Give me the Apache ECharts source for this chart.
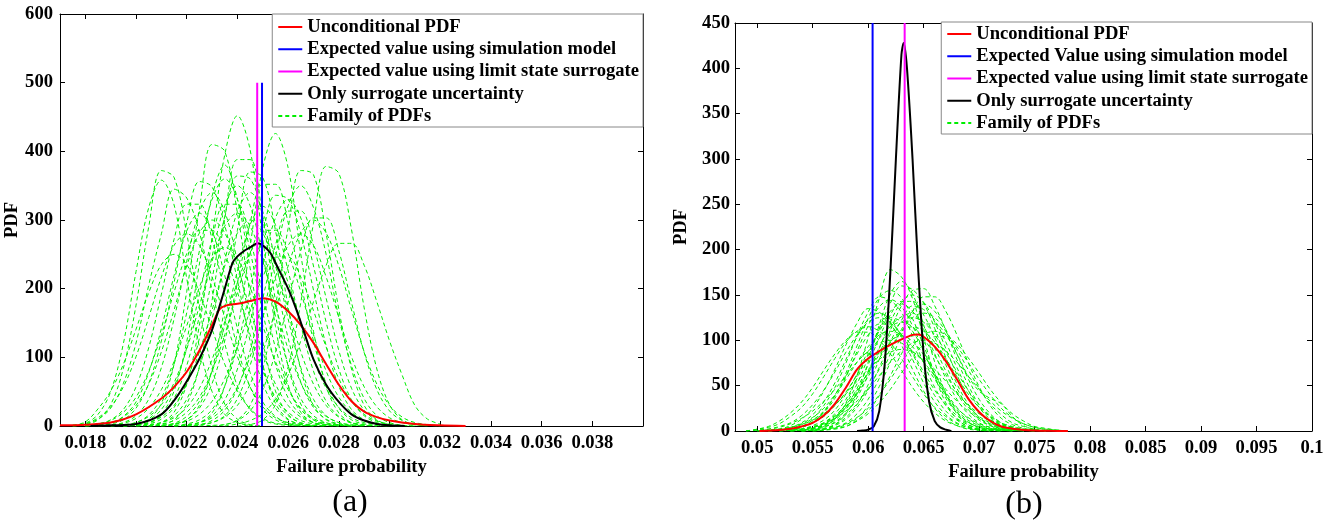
<!DOCTYPE html>
<html><head><meta charset="utf-8">
<script src="https://cdn.jsdelivr.net/npm/echarts@6/dist/echarts.min.js"></script>
<style>html,body{margin:0;padding:0;background:#fff}#c{width:1337px;height:524px}</style>
</head><body><div id="c"></div>
<script>
// ---------- tick labels ----------
const ticksAx = [0.018, 0.02, 0.022, 0.024, 0.026, 0.028, 0.03, 0.032, 0.034, 0.036, 0.038];
const ticksBx = [0.05, 0.055, 0.06, 0.065, 0.07, 0.075, 0.08, 0.085, 0.09, 0.095, 0.1];

// ---------- legend names ----------
const namesA = ['Unconditional PDF', 'Expected value using simulation model', 'Expected value using limit state surrogate', 'Only surrogate uncertainty', 'Family of PDFs'];
const namesB = ['Unconditional PDF', 'Expected Value using simulation model', 'Expected value using limit state surrogate', 'Only surrogate uncertainty', 'Family of PDFs'];

// ---------- chart (a) ----------
const redAx = [0.017, 0.018, 0.019, 0.020, 0.021, 0.0215, 0.022, 0.0225, 0.023, 0.0233, 0.0236, 0.024, 0.0245, 0.025, 0.0255, 0.026, 0.0265, 0.027, 0.0275, 0.028, 0.0285, 0.029, 0.0295, 0.030, 0.031, 0.032, 0.033];
const redAy = [1, 2, 5, 17, 40, 57, 79, 110, 147, 170, 176, 178, 182, 186, 181, 167, 147, 121, 90, 60, 36, 21, 13, 8, 3, 1, 0];
const blackAx = [0.0182, 0.019, 0.020, 0.021, 0.0216, 0.022, 0.0225, 0.023, 0.0235, 0.0238, 0.024, 0.0243, 0.0245, 0.0248, 0.025, 0.0253, 0.0256, 0.026, 0.0263, 0.0266, 0.027, 0.0275, 0.028, 0.0285, 0.029, 0.0295, 0.030, 0.0306];
const blackAy = [0, 1, 3, 17, 42, 65, 98, 140, 200, 237, 247, 256, 260, 266, 263, 252, 230, 200, 172, 140, 97, 60, 35, 17, 8, 3, 1, 0];
const simA = 0.02497, surA = 0.02478, vTopA = 500;
const famAx = [0.0175, 0.018, 0.0185, 0.019, 0.0195, 0.02, 0.0205, 0.021, 0.0215, 0.022, 0.0225, 0.023, 0.0235, 0.024, 0.0245, 0.025, 0.0255, 0.026, 0.0265, 0.027, 0.0275, 0.028, 0.0285, 0.029, 0.0295, 0.03, 0.0305, 0.031, 0.0315, 0.032];
const famA = [
 [0,2,9,31,84,176,290,372,362,280,172,84,32,10,2,0,0,0,0,0,0,0,0,0,0,0,0,0,0,0],
 [1,4,17,50,120,225,318,358,322,215,115,50,17,5,1,0,0,0,0,0,0,0,0,0,0,0,0,0,0,0],
 [1,3,10,26,62,121,205,280,345,332,282,198,120,58,24,9,3,1,0,0,0,0,0,0,0,0,0,0,0,0],
 [0,0,0,0,0,2,10,33,90,196,316,410,400,310,191,90,33,10,2,0,0,0,0,0,0,0,0,0,0,0],
 [0,0,0,0,0,0,1,5,20,61,147,274,395,452,402,272,145,60,20,5,1,0,0,0,0,0,0,0,0,0],
 [0,0,0,0,0,0,0,0,0,1,5,19,58,138,262,376,426,376,250,138,58,19,5,1,0,0,0,0,0,0],
 [0,0,0,0,0,0,0,0,0,0,0,0,2,9,30,83,175,288,372,366,280,170,83,30,9,2,0,0,0,0],
 [0,0,0,0,0,0,0,0,0,0,0,0,0,0,2,9,31,86,180,295,378,368,286,172,83,31,9,2,0,0],
 [0,0,0,0,0,0,0,0,0,0,1,5,15,40,88,160,247,321,350,318,250,158,88,40,15,5,1,0,0,0],
 [0,0,1,3,9,26,62,124,209,296,356,348,292,212,124,62,26,9,3,1,0,0,0,0,0,0,0,0,0,0],
 [0,0,0,0,0,1,4,17,51,123,236,335,380,330,230,123,51,17,4,1,0,0,0,0,0,0,0,0,0,0],
 [0,0,0,0,0,0,0,0,2,9,30,82,173,285,370,362,285,173,82,30,9,2,0,0,0,0,0,0,0,0],
 [0,0,0,0,0,1,3,10,27,64,128,215,305,364,360,305,215,128,64,27,10,3,1,0,0,0,0,0,0,0],
 [0,0,0,0,0,0,0,0,1,3,9,24,58,117,198,280,336,330,280,198,117,58,24,9,3,1,0,0,0,0],
 [0,0,1,4,14,35,78,142,219,284,310,284,219,142,78,35,14,4,1,0,0,0,0,0,0,0,0,0,0,0],
 [0,0,0,0,0,0,0,0,0,1,5,15,38,83,151,233,303,330,303,233,151,83,38,15,5,1,0,0,0,0],
 [0,0,0,0,0,0,0,0,0,0,2,5,13,30,61,108,169,233,281,300,281,233,169,108,61,30,13,5,2,0],
 [0,0,0,0,0,0,0,0,0,0,0,0,0,3,8,18,39,74,124,181,234,266,266,234,181,124,74,30,10,3],
 [0,3,12,28,57,101,158,217,263,280,263,217,158,101,57,28,12,5,2,0,0,0,0,0,0,0,0,0,0,0],
 [0,0,0,0,1,3,9,24,57,114,192,272,323,323,272,192,114,57,24,9,3,1,0,0,0,0,0,0,0,0],
 [0,0,0,0,0,0,0,1,4,14,36,80,147,226,293,320,293,226,147,80,36,14,4,1,0,0,0,0,0,0],
 [0,0,0,0,0,2,5,13,30,61,108,169,233,281,300,281,233,169,108,61,30,13,5,2,0,0,0,0,0,0],
 [0,0,0,1,5,15,39,85,156,240,312,340,312,240,156,85,39,15,5,1,0,0,0,0,0,0,0,0,0,0],
 [0,0,0,0,0,0,0,1,3,9,26,62,124,209,296,352,352,296,209,124,62,26,9,3,1,0,0,0,0,0],
 [0,0,0,0,0,1,5,15,40,88,160,247,321,350,321,247,160,88,40,15,5,1,0,0,0,0,0,0,0,0],
 [0,0,0,0,0,0,0,3,8,20,42,80,133,195,251,285,285,251,195,133,80,42,20,8,3,0,0,0,0,0],
 [0,0,2,5,13,30,61,108,169,233,281,300,281,233,169,108,61,30,13,5,2,0,0,0,0,0,0,0,0,0],
 [0,0,0,0,2,5,14,31,63,112,175,240,291,310,291,240,175,112,63,31,14,5,2,0,0,0,0,0,0,0],
 [0,0,0,0,0,0,0,0,0,1,2,8,23,55,110,186,263,313,313,263,186,110,55,23,8,2,1,0,0,0],
 [0,1,3,9,24,57,114,192,272,323,323,272,192,114,57,24,9,3,1,0,0,0,0,0,0,0,0,0,0,0],
 [0,0,0,2,4,11,26,53,94,146,202,244,260,244,202,146,94,53,26,11,4,2,0,0,0,0,0,0,0,0],
 [0,0,0,0,0,0,0,0,3,7,17,36,69,115,168,217,246,246,217,168,115,69,36,17,7,3,0,0,0,0],
 [0,0,3,8,20,42,80,133,195,251,285,285,251,195,133,80,42,20,8,3,0,0,0,0,0,0,0,0,0,0],
 [0,0,0,0,0,0,1,5,15,39,85,156,240,312,340,312,240,156,85,39,15,5,1,0,0,0,0,0,0,0],
 [0,0,0,0,0,0,0,0,0,2,5,12,28,57,101,158,217,263,280,263,217,158,101,57,28,12,5,2,0,0],
 [0,0,0,0,1,5,16,41,90,165,255,330,360,330,255,165,90,41,16,5,1,0,0,0,0,0,0,0,0,0],
 [0,0,0,0,0,0,2,5,12,27,55,97,152,209,253,270,253,209,152,97,55,27,12,5,2,0,0,0,0,0],
 [0,0,0,0,0,0,0,0,0,0,0,1,2,8,22,53,107,180,255,303,303,255,180,107,53,22,8,2,1,0],
 [1,6,25,51,90,141,194,235,250,235,194,141,90,51,25,11,4,2,0,0,0,0,0,0,0,0,0,0,0,0],
 [0,0,0,0,0,0,0,2,9,32,87,183,302,388,388,302,183,87,32,9,2,0,0,0,0,0,0,0,0,0]
];

// ---------- chart (b) ----------
const redBx = [0.0502, 0.052, 0.053, 0.054, 0.055, 0.056, 0.057, 0.058, 0.059, 0.060, 0.061, 0.062, 0.063, 0.064, 0.0645, 0.065, 0.066, 0.067, 0.068, 0.069, 0.070, 0.071, 0.072, 0.073, 0.074, 0.075, 0.0765, 0.078];
const redBy = [0, 1, 2.5, 5, 9, 17, 30, 48, 68, 80, 88, 95, 101, 106, 106.5, 104, 93, 77, 57, 36, 21, 11, 5, 2.5, 1.2, 0.6, 0.2, 0];
const blackBx = [0.059, 0.0595, 0.060, 0.0605, 0.061, 0.0615, 0.062, 0.0625, 0.063, 0.0632, 0.0635, 0.064, 0.0645, 0.065, 0.0655, 0.066, 0.0665, 0.067, 0.0675];
const blackBy = [0, 0.5, 1.5, 5, 22, 75, 175, 300, 415, 428, 400, 300, 180, 85, 32, 11, 4, 1.5, 0];
const simB = 0.0604, surB = 0.06329, vTopB = 450;
const famBx = [0.049, 0.05, 0.051, 0.052, 0.053, 0.054, 0.055, 0.056, 0.057, 0.058, 0.059, 0.06, 0.061, 0.062, 0.063, 0.064, 0.065, 0.066, 0.067, 0.068, 0.069, 0.07, 0.071, 0.072, 0.073, 0.074, 0.075, 0.076, 0.077, 0.078, 0.079];
const famB = [
 [0,0,0,0,0,0,1,5,13,31,61,103,146,178,170,146,103,61,31,13,5,1,0,0,0,0,0,0,0,0,0],
 [0,0,0,0,0,1,3,7,15,30,52,81,113,141,160,156,141,113,81,52,30,15,7,3,1,0,0,0,0,0,0],
 [0,0,0,0,0,0,1,3,7,15,29,51,79,111,138,155,157,138,111,79,51,29,15,7,3,1,0,0,0,0,0],
 [0,0,0,1,3,7,14,28,48,75,105,131,148,144,131,105,75,48,28,14,7,3,1,0,0,0,0,0,0,0,0],
 [0,0,1,2,6,13,25,44,68,95,119,135,131,119,95,68,44,25,13,6,2,1,0,0,0,0,0,0,0,0,0],
 [0,0,0,0,1,2,4,9,19,35,58,85,112,132,140,132,112,85,58,35,19,9,4,2,1,0,0,0,0,0,0],
 [0,0,0,0,0,1,2,4,10,20,37,62,91,120,142,150,142,120,91,62,37,20,10,4,2,1,0,0,0,0,0],
 [0,0,0,1,2,4,10,20,36,60,88,116,137,145,137,116,88,60,36,20,10,4,2,1,0,0,0,0,0,0,0],
 [0,0,0,0,0,1,2,5,9,18,30,47,68,90,110,125,130,125,110,90,68,47,30,18,9,5,2,1,0,0,0],
 [0,1,2,5,9,17,29,45,65,87,106,120,125,120,106,87,65,45,29,17,9,5,2,1,0,0,0,0,0,0,0],
 [0,0,0,1,2,4,9,16,28,43,62,83,102,115,120,115,102,83,62,43,28,16,9,4,2,1,0,0,0,0,0],
 [0,0,0,0,1,2,4,8,16,26,41,60,80,98,110,115,110,98,80,60,41,26,16,8,4,2,1,0,0,0,0],
 [0,1,2,4,8,14,22,33,46,61,76,88,97,100,97,88,76,61,46,33,22,14,8,4,2,1,0,0,0,0,0],
 [0,0,0,0,1,2,4,8,14,22,33,46,61,76,88,97,100,97,88,76,61,46,33,22,14,8,4,2,1,0,0],
 [0,0,0,0,0,1,2,6,12,24,42,66,92,115,126,130,115,92,66,42,24,12,6,2,1,0,0,0,0,0,0],
 [0,0,0,0,1,2,6,12,23,41,63,88,110,125,121,110,88,63,41,23,12,6,2,1,0,0,0,0,0,0,0],
 [0,0,0,0,0,0,1,2,4,8,15,25,40,57,76,93,106,110,106,93,76,57,40,25,15,8,4,2,1,0,0],
 [0,2,4,8,16,26,41,60,80,98,110,115,110,98,80,60,41,26,16,8,4,2,1,0,0,0,0,0,0,0,0],
 [0,0,1,2,4,7,12,19,29,41,55,68,79,87,90,87,79,68,55,41,29,19,12,7,4,2,1,0,0,0,0],
 [0,0,0,0,0,0,1,2,6,13,26,45,70,98,122,138,134,122,98,70,45,26,13,6,2,1,0,0,0,0,0],
 [0,0,0,1,2,5,12,22,39,61,85,106,118,118,106,85,61,39,22,12,5,2,1,0,0,0,0,0,0,0,0],
 [0,0,0,0,0,0,0,1,2,5,12,22,39,61,85,106,118,118,106,85,61,44,36,30,16,6,2,0,0,0,0],
 [0,0,0,0,0,1,3,7,14,26,43,64,84,99,105,99,84,64,43,26,14,7,3,1,0,0,0,0,0,0,0],
 [0,2,5,11,20,32,48,67,85,100,109,109,100,85,67,48,32,20,11,6,3,1,0,0,0,0,0,0,0,0,0],
 [0,0,0,0,0,0,0,1,3,5,11,19,31,46,64,81,96,104,104,96,81,64,46,31,19,11,5,3,1,0,0],
 [0,0,0,1,2,4,10,21,39,64,94,124,147,155,147,124,94,64,39,21,10,4,2,1,0,0,0,0,0,0,0],
 [0,0,0,0,0,0,1,2,4,9,19,35,58,85,112,132,140,132,112,85,58,35,19,9,4,2,1,0,0,0,0],
 [0,0,0,1,4,9,18,32,53,79,104,123,130,123,104,79,53,32,18,9,4,1,0,0,0,0,0,0,0,0,0],
 [0,0,0,0,0,1,3,6,14,27,47,73,103,128,143,143,128,103,73,47,27,14,6,3,1,0,0,0,0,0,0],
 [0,0,0,0,1,2,5,9,17,29,45,65,87,106,120,125,120,106,87,65,45,29,17,9,5,2,1,0,0,0,0],
 [0,0,1,2,4,8,15,25,40,57,76,93,106,110,106,93,76,57,40,25,15,8,4,2,1,0,0,0,0,0,0],
 [0,0,0,0,0,0,0,1,3,7,14,28,49,76,106,132,148,148,132,106,76,49,28,14,7,3,1,0,0,0,0],
 [0,0,0,0,0,0,1,2,7,19,41,76,117,151,165,151,117,76,41,19,7,2,1,0,0,0,0,0,0,0,0]
];

// ---------- build ----------
const FONT = '"Liberation Serif","Times New Roman",serif';
const boldText = {fontFamily: FONT, fontWeight: 'bold', fontSize: 18.6, color: '#000'};
const zip = (xs, ys) => xs.map((x, i) => [x, ys[i]]);

function famSeries(xs, rows, xi, yi) {
  return rows.map(row => {
    let first = row.findIndex(v => v > 0);
    let last = row.length - 1 - row.slice().reverse().findIndex(v => v > 0);
    const s = Math.max(0, first - 1), e = Math.min(row.length - 1, last + 1);
    const data = [];
    for (let i = s; i <= e; i++) data.push([xs[i], row[i]]);
    return {type: 'line', name: 'Family of PDFs', xAxisIndex: xi, yAxisIndex: yi, data,
      symbol: 'none', showSymbol: false, smooth: 0.35, silent: true, z: 2,
      lineStyle: {color: '#00ee00', width: 1, type: [4, 3]}, itemStyle: {color: '#00ee00'}};
  });
}
function line(name, data, color, xi, yi, z, smooth) {
  return {type: 'line', name, xAxisIndex: xi, yAxisIndex: yi, data, symbol: 'none', showSymbol: false,
    smooth: smooth ? 0.3 : false, z, silent: true,
    lineStyle: {color, width: 2}, itemStyle: {color}};
}
function xAxes(grid, min, max, ticks) {
  const mk = () => ({type: 'value', gridIndex: grid, min, max, splitLine: {show: false},
    axisLine: {show: true, onZero: false, lineStyle: {color: '#000', width: 1}},
    axisTick: {show: true, inside: true, length: 5, customValues: ticks, lineStyle: {color: '#000'}}});
  return [
    Object.assign(mk(), {position: 'bottom',
      axisLabel: Object.assign({customValues: ticks, formatter: v => String(v), margin: 8}, boldText),
      name: 'Failure probability', nameLocation: 'middle', nameGap: 31, nameTextStyle: boldText}),
    Object.assign(mk(), {position: 'top', axisLabel: {show: false}})
  ];
}
function yAxes(grid, max, interval, margin, nameGap) {
  const mk = () => ({type: 'value', gridIndex: grid, min: 0, max, interval, splitLine: {show: false},
    axisLine: {show: true, onZero: false, lineStyle: {color: '#000', width: 1}},
    axisTick: {show: true, inside: true, length: 5, lineStyle: {color: '#000'}}});
  return [
    Object.assign(mk(), {position: 'left', axisLabel: Object.assign({margin}, boldText),
      name: 'PDF', nameLocation: 'middle', nameGap, nameTextStyle: boldText}),
    Object.assign(mk(), {position: 'right', axisLabel: {show: false}})
  ];
}
function legend(names, right, top, padTop) {
  return {data: names, orient: 'vertical', right, top, itemWidth: 24, itemHeight: 2, itemGap: 0.25,
    padding: [padTop, 4, 0, 5], backgroundColor: '#fff', borderColor: '#888', borderWidth: 1,
    selectedMode: false, itemStyle: {opacity: 0, borderWidth: 0},
    textStyle: Object.assign({lineHeight: 22}, boldText)};
}

const series = [].concat(
  famSeries(famAx, famA, 0, 0),
  [line('Unconditional PDF', zip(redAx, redAy), '#ff0000', 0, 0, 5, true),
   line('Only surrogate uncertainty', zip(blackAx, blackAy), '#000000', 0, 0, 6, true),
   line('Expected value using simulation model', [[simA, 0], [simA, vTopA]], '#0000ff', 0, 0, 7, false),
   line('Expected value using limit state surrogate', [[surA, 0], [surA, vTopA]], '#ff00ff', 0, 0, 7, false)],
  famSeries(famBx, famB, 2, 2),
  [line('Unconditional PDF', zip(redBx, redBy), '#ff0000', 2, 2, 5, true),
   line('Only surrogate uncertainty', zip(blackBx, blackBy), '#000000', 2, 2, 6, true),
   line('Expected Value using simulation model', [[simB, 0], [simB, vTopB]], '#0000ff', 2, 2, 7, false),
   line('Expected value using limit state surrogate', [[surB, 0], [surB, vTopB]], '#ff00ff', 2, 2, 7, false)]
);

const chart = echarts.init(document.getElementById('c'), null, {renderer: 'canvas'});
chart.setOption({
  animation: false,
  backgroundColor: '#fff',
  grid: [
    {left: 60, top: 14, width: 583, height: 412, outerBoundsMode: 'none'},
    {left: 735, top: 23, width: 577, height: 408, outerBoundsMode: 'none'}
  ],
  xAxis: [].concat(xAxes(0, 0.017, 0.040, ticksAx), xAxes(1, 0.048, 0.1, ticksBx)),
  yAxis: [].concat(yAxes(0, 600, 100, 7, 36), yAxes(1, 450, 50, 5, 44)),
  legend: [legend(namesA, 694, 14, 2), legend(namesB, 25, 22, 1)],
  graphic: [
    {type: 'text', x: 350, y: 503, style: {text: '(a)', font: '32px ' + FONT, fill: '#000', textAlign: 'center', textVerticalAlign: 'middle'}},
    {type: 'text', x: 1024, y: 505, style: {text: '(b)', font: '32px ' + FONT, fill: '#000', textAlign: 'center', textVerticalAlign: 'middle'}}
  ],
  series
});
</script>
</body></html>
